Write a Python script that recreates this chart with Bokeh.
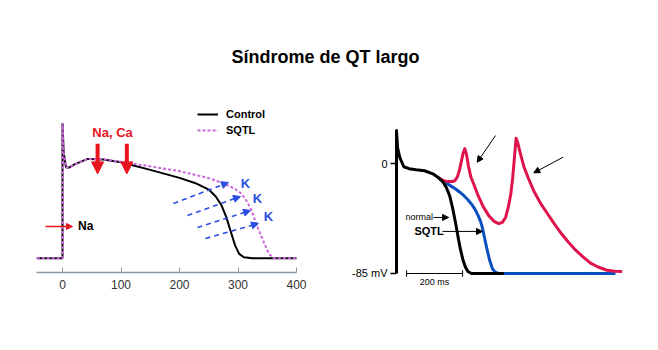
from bokeh.plotting import figure
from bokeh.models import (Range1d, LinearAxis, FixedTicker, Arrow, NormalHead,
                          Label, Legend, LegendItem)
from bokeh.embed import file_html
from bokeh.resources import INLINE

# ---------------- data ----------------
# Left panel: action potential, time (ms) vs potential (arbitrary mV units)
left_ticks = [0, 100, 200, 300, 400]
ctrl_t = [-44, 0, 0, 2, 6, 10, 20, 43, 70, 100, 150, 200, 230, 250, 262, 272,
          280, 288, 295, 302, 310, 325, 400]
ctrl_v = [-82.6, -82.6, 61, 30, 14, 13.5, 17, 23, 22.3, 19.5, 11.3, 2.8, -3.5,
          -9.6, -17, -26.6, -39, -55, -69, -78, -81.6, -82.6, -82.6]
sqtl_t = [-44, 0, 0, 2, 6, 10, 20, 43, 70, 100, 130, 160, 200, 230, 250, 270,
          282, 295, 305, 313, 322, 333, 345, 353, 361, 400]
sqtl_v = [-82.6, -82.6, 61, 30, 14, 13.5, 17, 23, 22.5, 20, 17, 14, 10, 5.5,
          2.5, -2, -5, -9, -13.5, -20, -30, -49, -67, -78, -82.6, -82.6]
legend_labels = ["Control", "SQTL"]

# Right panel: time (ms) vs membrane potential (mV)
right_ticks = [-85, 0]
right_tick_labels = ["-85 mV", "0"]
normal_t = [0, 0, 4, 12, 26, 45, 70, 100, 130, 150, 165, 178, 190, 200, 211,
            220, 229, 238, 246, 255, 268, 383]
normal_v = [-85, 25.5, 12, 4.5, -2.5, -4, -4.8, -5.6, -8, -11, -14, -18.5, -25,
            -34, -46, -57, -67, -75, -80, -83.5, -85, -85]
sqtl_r_t = [150, 165, 180, 195, 210, 225, 240, 255, 270, 282, 292, 300, 306,
            315, 324, 333, 342, 352, 365, 782]
sqtl_r_v = [-11, -13.5, -15.5, -17.5, -19.5, -22, -24.7, -28, -32, -36, -40.5,
            -44.5, -49, -58, -67, -75, -81, -84, -85, -85]
ead_t = [150, 160, 170, 185, 200, 210, 218, 225, 232, 238, 244, 250, 257, 265,
         276, 290, 310, 330, 350, 365, 378, 390, 400, 408, 415, 421, 427, 433,
         442, 455, 472, 490, 515, 540, 565, 590, 615, 640, 665, 693, 720, 752,
         780, 806]
ead_v = [-11, -12.5, -13.3, -14, -14, -13, -10, -5, 2, 8, 11.5, 7, -2, -10,
         -16, -24, -33.5, -40.5, -45, -46.5, -45.5, -41.5, -33, -24, -11, 4,
         19.5, 16, 8, -2.5, -12, -21, -31, -39, -47, -54.5, -61, -67, -72, -77,
         -80, -82.5, -83.3, -83.5]
scale_bar_ms = 200

# ---------------- layout constants ----------------
W, H = 658, 350
L_X0, L_XS = 62, 0.585     # left panel: px of t=0, px per ms
L_Y0, L_YS = 180, 0.94     # left panel: px of v=0, px per unit
R_X0, R_XS = 396, 0.28
R_Y0, R_YS = 163, 1.294

RED = "#e8141e"
BLUE = "#2a4fe0"
PURPLE = "#cc66dd"
CRIMSON = "#e0144c"
DBLUE = "#0a4fc0"
FONT = "Liberation Sans"

p = figure(width=W, height=H, output_backend="svg", toolbar_location=None,
           x_axis_location=None, y_axis_location=None, min_border=0,
           x_range=Range1d(-L_X0 / L_XS, (W - L_X0) / L_XS),
           y_range=Range1d(-(H - L_Y0) / L_YS, L_Y0 / L_YS))
p.extra_x_ranges = {"r": Range1d(-R_X0 / R_XS, (W - R_X0) / R_XS)}
p.extra_y_ranges = {"r": Range1d(-(H - R_Y0) / R_YS, R_Y0 / R_YS)}
p.outline_line_color = None
p.grid.visible = False
p.background_fill_color = "white"
p.border_fill_color = "white"

# ---------------- left panel ----------------
r_ctrl = p.line(ctrl_t, ctrl_v, line_color="black", line_width=2)
r_sqtl = p.line(sqtl_t, sqtl_v, line_color=PURPLE, line_width=2, line_dash="3 2")

ax = LinearAxis(fixed_location=(L_Y0 - 272) / L_YS, bounds=(-44.4, 400),
                ticker=FixedTicker(ticks=left_ticks),
                axis_line_color="#8a99a6", axis_line_width=1.5,
                major_tick_in=5, major_tick_out=0,
                major_tick_line_color="#8a99a6", major_tick_line_width=1,
                minor_tick_line_color=None, major_label_standoff=7,
                major_label_text_font=FONT,
                major_label_text_font_size="12px",
                major_label_text_color="#333333")
p.add_layout(ax, "below")

legend = Legend(items=[LegendItem(label=legend_labels[0], renderers=[r_ctrl]),
                       LegendItem(label=legend_labels[1], renderers=[r_sqtl])],
                location=(197, H - 138), orientation="vertical",
                padding=0, margin=0, spacing=0, glyph_width=21,
                glyph_height=16, label_height=16, label_standoff=8,
                label_text_font=FONT, label_text_font_style="bold",
                label_text_font_size="11px", label_text_color="black",
                background_fill_alpha=0, border_line_color=None)
p.add_layout(legend)

# red thick arrows (Na, Ca)
for tx in (60, 110):
    p.add_layout(Arrow(end=NormalHead(size=12, fill_color=RED, line_color=RED),
                       x_start=tx, y_start=39, x_end=tx, y_end=7,
                       line_color=RED, line_width=4))
p.add_layout(Label(x=85.5, y=51, text="Na, Ca", text_align="center",
                   text_baseline="middle", text_font=FONT,
                   text_font_style="bold", text_font_size="13px",
                   text_color=RED))

# Na inward arrow
p.add_layout(Arrow(end=NormalHead(size=6, fill_color=RED, line_color=RED),
                   x_start=-29, y_start=-48.9, x_end=17, y_end=-48.9,
                   line_color=RED, line_width=1.5))
p.add_layout(Label(x=26.5, y=-48.9, text="Na", text_align="left",
                   text_baseline="middle", text_font=FONT,
                   text_font_style="bold", text_font_size="12px",
                   text_color="black"))

# blue dashed K arrows
for (x0, y0, x1, y1) in [(189.7, -24.5, 283.8, -2.1), (213.7, -37.2, 304.3, -17.0),
                         (230.8, -50.0, 321.4, -31.9), (244.4, -61.7, 335.0, -45.7)]:
    p.add_layout(Arrow(end=NormalHead(size=7, fill_color=BLUE, line_color=BLUE),
                       x_start=x0, y_start=y0, x_end=x1, y_end=y1,
                       line_color=BLUE, line_width=1.6, line_dash="5 4"))
for (kx, ky) in [(312.8, -3.2), (333.3, -19.1), (352.1, -38.3)]:
    p.add_layout(Label(x=kx, y=ky, text="K", text_align="center",
                       text_baseline="middle", text_font=FONT,
                       text_font_style="bold", text_font_size="13px",
                       text_color=BLUE))

# ---------------- right panel ----------------
R = dict(x_range_name="r", y_range_name="r")
p.line(sqtl_r_t, sqtl_r_v, line_color=DBLUE, line_width=3, line_join="round", **R)
p.line(ead_t, ead_v, line_color=CRIMSON, line_width=3, line_join="round", **R)
p.line(normal_t, normal_v, line_color="black", line_width=3, line_join="round", **R)

ay = LinearAxis(fixed_location=0, ticker=FixedTicker(ticks=right_ticks),
                major_label_overrides=dict(zip(right_ticks, right_tick_labels)),
                axis_line_color=None, major_tick_out=6, major_tick_in=0,
                major_tick_line_width=1.5, major_tick_line_color="black",
                minor_tick_line_color=None, major_label_standoff=3,
                major_label_text_font=FONT, major_label_text_font_size="11px",
                major_label_text_color="black", **R)
p.add_layout(ay, "left")

# scale bar
sb0 = 36
p.segment(x0=[sb0, sb0, sb0 + scale_bar_ms], y0=[-85, -87.5, -87.5],
          x1=[sb0 + scale_bar_ms, sb0, sb0 + scale_bar_ms], y1=[-85, -82.5, -82.5],
          line_color="black", line_width=1, **R)
p.add_layout(Label(x=sb0 + scale_bar_ms / 2, y=-91.5, text=f"{scale_bar_ms} ms",
                   text_align="center", text_baseline="middle", text_font=FONT,
                   text_font_size="9px", text_color="black", **R))

# labels with arrows
p.add_layout(Label(x=32, y=-41.7, text="normal", text_align="left",
                   text_baseline="middle", text_font=FONT, text_font_size="9px",
                   text_color="black", **R))
p.add_layout(Label(x=64, y=-52.5, text="SQTL", text_align="left",
                   text_baseline="middle", text_font=FONT,
                   text_font_style="bold", text_font_size="11px",
                   text_color="black", **R))
for (x0, y0, x1, y1) in [(132, -41.7, 186, -41.7), (164, -52.5, 307, -52.5),
                         (353.6, 21.6, 288.2, 1.0), (595.4, 4.9, 490.4, -7.2)]:
    p.add_layout(Arrow(end=NormalHead(size=6, fill_color="black", line_color="black"),
                       x_start=x0, y_start=y0, x_end=x1, y_end=y1,
                       line_color="black", line_width=1, **R))

# title
p.add_layout(Label(x=325, y=H - 56, x_units="screen", y_units="screen",
                   text="Síndrome de QT largo", text_align="center",
                   text_baseline="middle", text_font=FONT,
                   text_font_style="bold", text_font_size="18px",
                   text_color="black"))

open("out.html", "w").write(file_html(p, INLINE))
